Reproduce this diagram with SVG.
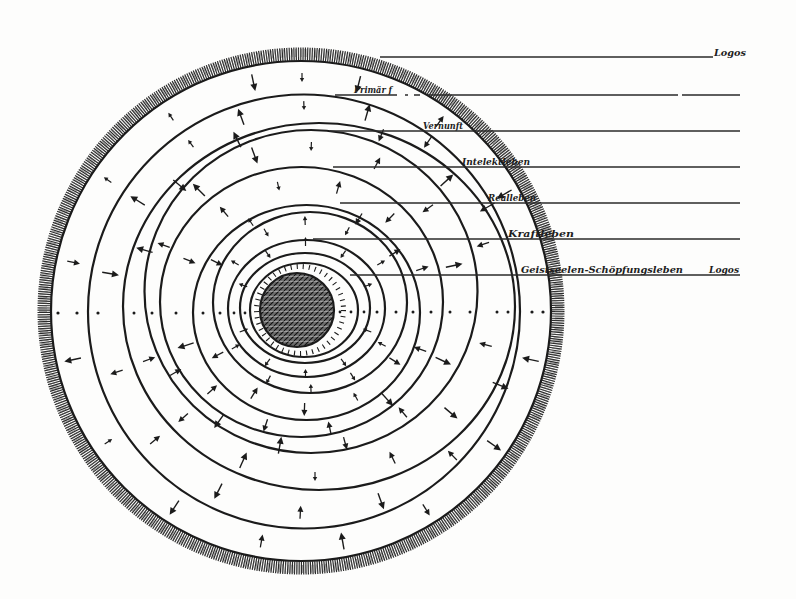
<svg xmlns="http://www.w3.org/2000/svg" xmlns:xlink="http://www.w3.org/1999/xlink" width="796" height="599" viewBox="0 0 796 599">
<style>
.ring{fill:none;stroke:#1b1b1b;stroke-width:2.2}
.hl{stroke:#2a2a2a;stroke-width:1.6;fill:none}
.lbl{font-family:"DejaVu Serif","Liberation Serif",serif;font-style:italic;font-weight:bold;font-size:10px;fill:#1e1e1e}
.dot{fill:#1b1b1b}
</style>
<defs>
<pattern id="core" width="5" height="5" patternUnits="userSpaceOnUse">
<rect width="5" height="5" fill="#6a6a6a"/>
<path d="M0,5 L5,0 M-1,1 L1,-1 M4,6 L6,4" stroke="#111" stroke-width="1.2"/>
<path d="M0,1 C1.5,2.5 3,0 5,2" stroke="#ddd" stroke-width="0.6" fill="none"/>
</pattern>
<g id="A"><line x1="-8" y1="0" x2="4" y2="0" stroke="#1b1b1b" stroke-width="1.4"/><path d="M2,-3.5L9,0L2,3.5Z" fill="#1b1b1b"/></g>
<g id="Ai"><line x1="8" y1="0" x2="-4" y2="0" stroke="#1b1b1b" stroke-width="1.4"/><path d="M-2,-3.5L-9,0L-2,3.5Z" fill="#1b1b1b"/></g>
<g id="M"><line x1="-6" y1="0" x2="3" y2="0" stroke="#1b1b1b" stroke-width="1.3"/><path d="M1,-3L7,0L1,3Z" fill="#1b1b1b"/></g>
<g id="Mi"><line x1="6" y1="0" x2="-3" y2="0" stroke="#1b1b1b" stroke-width="1.3"/><path d="M-1,-3L-7,0L-1,3Z" fill="#1b1b1b"/></g>
<g id="S"><line x1="-4" y1="0" x2="2" y2="0" stroke="#1b1b1b" stroke-width="1.2"/><path d="M1,-2.2L5,0L1,2.2Z" fill="#1b1b1b"/></g>
<g id="Si"><line x1="4" y1="0" x2="-2" y2="0" stroke="#1b1b1b" stroke-width="1.2"/><path d="M-1,-2.2L-5,0L-1,2.2Z" fill="#1b1b1b"/></g>
</defs>
<rect width="796" height="599" fill="#fdfdfc"/>

<g id="outer-boundary">
<circle cx="301" cy="311" r="257" fill="none" stroke="#2b2b2b" stroke-width="13" stroke-dasharray="1.2 1.1"/>
<circle cx="301" cy="311" r="258" fill="none" stroke="#555" stroke-width="8" stroke-dasharray="0.8 2.1" opacity="0.7"/>
<circle cx="301" cy="311" r="250" class="ring" stroke-width="2.5"/>
</g>

<g id="rings">
<ellipse cx="304" cy="311.5" rx="216" ry="217" class="ring"/>
<ellipse cx="319" cy="306.5" rx="196" ry="183.5" class="ring"/>
<ellipse cx="311" cy="291.5" rx="166.5" ry="161.5" class="ring"/>
<ellipse cx="301.5" cy="302" rx="141.5" ry="135" class="ring"/>
<ellipse cx="306.5" cy="312.5" rx="113.5" ry="107.5" class="ring"/>
<ellipse cx="310" cy="302.5" rx="97" ry="90.5" class="ring"/>
<ellipse cx="306.5" cy="308.5" rx="78.5" ry="68.5" class="ring"/>
<ellipse cx="305" cy="308" rx="65" ry="55" class="ring"/>
<ellipse cx="304" cy="310" rx="54" ry="47" class="ring"/>
<circle cx="300" cy="310" r="43.5" fill="none" stroke="#1b1b1b" stroke-width="5" stroke-dasharray="1.1 5"/>
</g>

<g id="core-node">
<circle cx="297" cy="310" r="37" fill="url(#core)" stroke="#1b1b1b" stroke-width="2.2"/>
</g>

<g id="arrows">
<g transform="translate(302 311)">
<use href="#Ai" transform="rotate(12) translate(234 0)"/>
<use href="#A" transform="rotate(35) translate(234 0)"/>
<use href="#M" transform="rotate(58) translate(234 0)"/>
<use href="#Ai" transform="rotate(80) translate(234 0)"/>
<use href="#Mi" transform="rotate(100) translate(234 0)"/>
<use href="#A" transform="rotate(123) translate(234 0)"/>
<use href="#Si" transform="rotate(146) translate(234 0)"/>
<use href="#A" transform="rotate(168) translate(234 0)"/>
<use href="#Mi" transform="rotate(192) translate(234 0)"/>
<use href="#S" transform="rotate(214) translate(234 0)"/>
<use href="#S" transform="rotate(236) translate(234 0)"/>
<use href="#Ai" transform="rotate(258) translate(234 0)"/>
<use href="#Si" transform="rotate(270) translate(234 0)"/>
<use href="#Ai" transform="rotate(284) translate(234 0)"/>
<use href="#M" transform="rotate(306) translate(234 0)"/>
<use href="#Ai" transform="rotate(330) translate(234 0)"/>
</g>
<g transform="translate(311 309)">
<use href="#A" transform="rotate(22) translate(204 0)"/>
<use href="#Mi" transform="rotate(46) translate(204 0)"/>
<use href="#A" transform="rotate(70) translate(204 0)"/>
<use href="#Mi" transform="rotate(93) translate(204 0)"/>
<use href="#A" transform="rotate(117) translate(204 0)"/>
<use href="#Mi" transform="rotate(140) translate(204 0)"/>
<use href="#M" transform="rotate(162) translate(204 0)"/>
<use href="#Ai" transform="rotate(190) translate(204 0)"/>
<use href="#A" transform="rotate(212) translate(204 0)"/>
<use href="#S" transform="rotate(234) translate(204 0)"/>
<use href="#A" transform="rotate(250) translate(204 0)"/>
<use href="#Si" transform="rotate(268) translate(204 0)"/>
<use href="#A" transform="rotate(286) translate(204 0)"/>
<use href="#Mi" transform="rotate(305) translate(204 0)"/>
<use href="#Ai" transform="rotate(330) translate(204 0)"/>
</g>
<g transform="translate(315 299)">
<use href="#Mi" transform="rotate(15) translate(177 0)"/>
<use href="#A" transform="rotate(40) translate(177 0)"/>
<use href="#Mi" transform="rotate(64) translate(177 0)"/>
<use href="#S" transform="rotate(90) translate(177 0)"/>
<use href="#Ai" transform="rotate(114) translate(177 0)"/>
<use href="#M" transform="rotate(138) translate(177 0)"/>
<use href="#Mi" transform="rotate(160) translate(177 0)"/>
<use href="#A" transform="rotate(196) translate(177 0)"/>
<use href="#Ai" transform="rotate(220) translate(177 0)"/>
<use href="#A" transform="rotate(244) translate(177 0)"/>
<use href="#Mi" transform="rotate(292) translate(177 0)"/>
<use href="#A" transform="rotate(318) translate(177 0)"/>
<use href="#Mi" transform="rotate(342) translate(177 0)"/>
</g>
<g transform="translate(306 297)">
<use href="#A" transform="rotate(25) translate(151 0)"/>
<use href="#Mi" transform="rotate(50) translate(151 0)"/>
<use href="#M" transform="rotate(75) translate(151 0)"/>
<use href="#Ai" transform="rotate(100) translate(151 0)"/>
<use href="#A" transform="rotate(125) translate(151 0)"/>
<use href="#Mi" transform="rotate(150) translate(151 0)"/>
<use href="#M" transform="rotate(200) translate(151 0)"/>
<use href="#A" transform="rotate(225) translate(151 0)"/>
<use href="#Ai" transform="rotate(250) translate(151 0)"/>
<use href="#Si" transform="rotate(272) translate(151 0)"/>
<use href="#M" transform="rotate(298) translate(151 0)"/>
<use href="#Mi" transform="rotate(324) translate(151 0)"/>
<use href="#A" transform="rotate(348) translate(151 0)"/>
</g>
<g transform="translate(304 307)">
<use href="#Mi" transform="rotate(20) translate(124 0)"/>
<use href="#A" transform="rotate(48) translate(124 0)"/>
<use href="#Mi" transform="rotate(78) translate(124 0)"/>
<use href="#M" transform="rotate(108) translate(124 0)"/>
<use href="#Mi" transform="rotate(138) translate(124 0)"/>
<use href="#A" transform="rotate(162) translate(124 0)"/>
<use href="#Mi" transform="rotate(202) translate(124 0)"/>
<use href="#M" transform="rotate(230) translate(124 0)"/>
<use href="#Si" transform="rotate(258) translate(124 0)"/>
<use href="#M" transform="rotate(286) translate(124 0)"/>
<use href="#Mi" transform="rotate(314) translate(124 0)"/>
<use href="#M" transform="rotate(342) translate(124 0)"/>
</g>
<g transform="translate(308 307)">
<use href="#M" transform="rotate(32) translate(102 0)"/>
<use href="#Si" transform="rotate(62) translate(102 0)"/>
<use href="#M" transform="rotate(92) translate(102 0)"/>
<use href="#Mi" transform="rotate(122) translate(102 0)"/>
<use href="#M" transform="rotate(152) translate(102 0)"/>
<use href="#Mi" transform="rotate(206) translate(102 0)"/>
<use href="#S" transform="rotate(236) translate(102 0)"/>
<use href="#Mi" transform="rotate(300) translate(102 0)"/>
<use href="#M" transform="rotate(328) translate(102 0)"/>
</g>
<g transform="translate(308 305)">
<use href="#Si" transform="rotate(28) translate(84 0)"/>
<use href="#S" transform="rotate(58) translate(84 0)"/>
<use href="#Si" transform="rotate(88) translate(84 0)"/>
<use href="#S" transform="rotate(118) translate(84 0)"/>
<use href="#Si" transform="rotate(150) translate(84 0)"/>
<use href="#S" transform="rotate(210) translate(84 0)"/>
<use href="#Si" transform="rotate(240) translate(84 0)"/>
<use href="#S" transform="rotate(268) translate(84 0)"/>
<use href="#Si" transform="rotate(298) translate(84 0)"/>
<use href="#S" transform="rotate(330) translate(84 0)"/>
</g>
<g transform="translate(305.5 308)">
<use href="#Si" transform="rotate(20) translate(66 0)"/>
<use href="#S" transform="rotate(55) translate(66 0)"/>
<use href="#Si" transform="rotate(90) translate(66 0)"/>
<use href="#S" transform="rotate(125) translate(66 0)"/>
<use href="#Si" transform="rotate(160) translate(66 0)"/>
<use href="#S" transform="rotate(200) translate(66 0)"/>
<use href="#Si" transform="rotate(235) translate(66 0)"/>
<use href="#S" transform="rotate(270) translate(66 0)"/>
<use href="#Si" transform="rotate(305) translate(66 0)"/>
<use href="#S" transform="rotate(340) translate(66 0)"/>
</g>
</g>

<g id="mid-row">
<circle class="dot" cx="58" cy="313" r="1.6"/><circle class="dot" cx="77" cy="313" r="1.6"/><circle class="dot" cx="98" cy="313" r="1.6"/>
<circle class="dot" cx="134" cy="313" r="1.5"/><circle class="dot" cx="152" cy="313" r="1.5"/><circle class="dot" cx="176" cy="313" r="1.5"/>
<circle class="dot" cx="203" cy="313" r="1.5"/><circle class="dot" cx="220" cy="313" r="1.5"/><circle class="dot" cx="234" cy="313" r="1.4"/><circle class="dot" cx="245" cy="313" r="1.4"/>
<circle class="dot" cx="340" cy="312" r="1.4"/><circle class="dot" cx="351" cy="312" r="1.4"/><circle class="dot" cx="364" cy="312" r="1.4"/>
<circle class="dot" cx="377" cy="312" r="1.5"/><circle class="dot" cx="396" cy="312" r="1.5"/><circle class="dot" cx="413" cy="312" r="1.5"/>
<circle class="dot" cx="431" cy="312" r="1.5"/><circle class="dot" cx="450" cy="312" r="1.5"/><circle class="dot" cx="470" cy="312" r="1.5"/>
<circle class="dot" cx="497" cy="312" r="1.5"/><circle class="dot" cx="508" cy="312" r="1.5"/><circle class="dot" cx="532" cy="312" r="1.6"/><circle class="dot" cx="543" cy="312" r="1.6"/>
</g>

<g id="connectors">
<line class="hl" x1="380" y1="57" x2="713" y2="57"/>
<line class="hl" x1="335" y1="95" x2="740" y2="95" stroke-dasharray="62 8 3 6 6 8 250 4 100"/>
<line class="hl" x1="330" y1="131" x2="740" y2="131"/>
<line class="hl" x1="333" y1="167" x2="740" y2="167"/>
<line class="hl" x1="340" y1="203" x2="740" y2="203"/>
<line class="hl" x1="313" y1="239" x2="740" y2="239"/>
<line class="hl" x1="350" y1="275" x2="740" y2="275"/>
</g>

<g id="labels">
<text class="lbl" x="714" y="56" textLength="32" lengthAdjust="spacingAndGlyphs">Logos</text>
<text class="lbl" x="354" y="93" textLength="38" lengthAdjust="spacingAndGlyphs">Primär f</text>
<text class="lbl" x="423" y="129" textLength="40" lengthAdjust="spacingAndGlyphs">Vernunft</text>
<text class="lbl" x="462" y="165" textLength="68" lengthAdjust="spacingAndGlyphs">Intelektleben</text>
<text class="lbl" x="488" y="201" textLength="48" lengthAdjust="spacingAndGlyphs">Realleben</text>
<text class="lbl" x="508" y="237" textLength="66" lengthAdjust="spacingAndGlyphs">Kraftleben</text>
<text class="lbl" x="521" y="273" textLength="162" lengthAdjust="spacingAndGlyphs">Geistseelen-Schöpfungsleben</text>
<text class="lbl" x="709" y="273" textLength="30" lengthAdjust="spacingAndGlyphs">Logos</text>
</g>
</svg>
